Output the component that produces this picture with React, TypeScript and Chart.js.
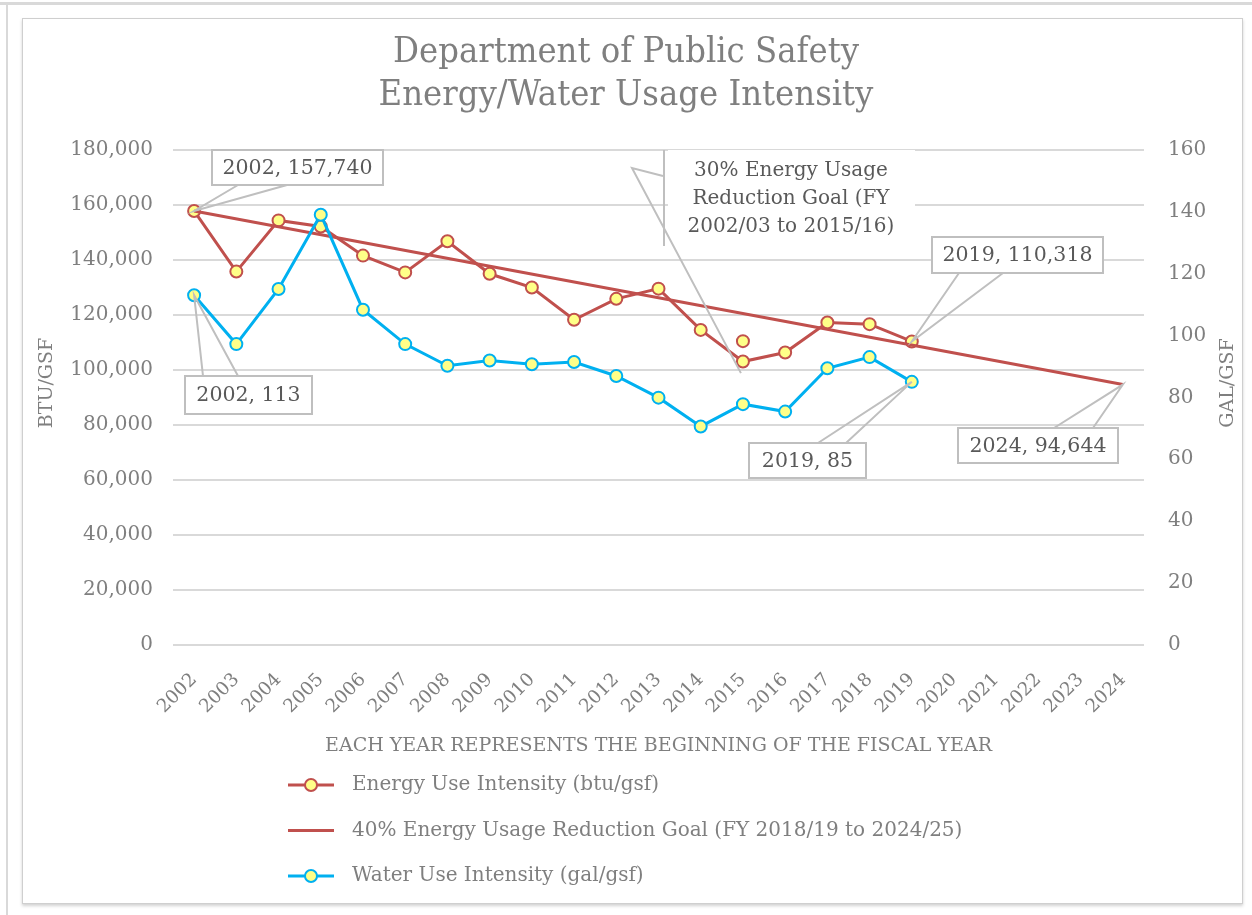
import React, { useEffect, useRef } from 'react';
import { Chart, registerables } from 'chart.js';

Chart.register(...registerables);

// ---------- data ----------
const years = ['2002', '2003', '2004', '2005', '2006', '2007', '2008', '2009', '2010', '2011', '2012', '2013', '2014', '2015', '2016', '2017', '2018', '2019', '2020', '2021', '2022', '2023', '2024'];

const energyUse = [157740, 135700, 154300, 152100, 141500, 135400, 146700, 134900, 129900, 118200, 125800, 129500, 114500, 103000, 106300, 117200, 116600, 110318, null, null, null, null, null];

const goal40 = [157740, null, null, null, null, null, null, null, null, null, null, null, null, null, null, null, null, null, null, null, null, null, 94644];

const goal30 = [null, null, null, null, null, null, null, null, null, null, null, null, null, 110418, null, null, null, null, null, null, null, null, null];

const waterUse = [113, 97.2, 115.0, 139.0, 108.3, 97.2, 90.2, 91.9, 90.7, 91.4, 86.9, 79.9, 70.6, 77.8, 75.4, 89.4, 93.0, 85, null, null, null, null, null];

const titleLines = ['Department of Public Safety', 'Energy/Water Usage Intensity'];
const leftAxis = { min: 0, max: 180000, step: 20000, title: 'BTU/GSF' };
const rightAxis = { min: 0, max: 160, step: 20, title: 'GAL/GSF' };
const xTitle = 'EACH YEAR REPRESENTS THE BEGINNING OF THE FISCAL YEAR';
const legendLabels = [
  'Energy Use Intensity (btu/gsf)',
  '40% Energy Usage Reduction Goal (FY 2018/19 to 2024/25)',
  'Water Use Intensity (gal/gsf)',
];
const goal30Label = ['30% Energy Usage', 'Reduction Goal (FY', '2002/03 to 2015/16)'];

// ---------- styles ----------
const RED = '#c0504d';
const BLUE = '#00b0f0';
const MARKER_FILL = '#ffff88';
const GRAY_TEXT = '#7f7f7f';
const LABEL_TEXT = '#595959';
const GRID = '#d9d9d9';
const CALLOUT = '#bfbfbf';
const SERIF = '"DejaVu Serif", serif';
const TITLE_FONT = '"DejaVu Serif Condensed", "Liberation Serif", serif';

const fmt = (v: number) => Math.round(v).toLocaleString('en-US');

function drawCallout(ctx: CanvasRenderingContext2D, text: string, box: { x: number; y: number; w: number; h: number }, anchors: number[][], target: { x: number; y: number }) {
  ctx.save();
  ctx.strokeStyle = CALLOUT;
  ctx.lineWidth = 2;
  ctx.beginPath();
  ctx.moveTo(anchors[0][0], anchors[0][1]);
  ctx.lineTo(target.x, target.y);
  ctx.lineTo(anchors[1][0], anchors[1][1]);
  ctx.stroke();
  ctx.fillStyle = '#ffffff';
  ctx.fillRect(box.x, box.y, box.w, box.h);
  ctx.strokeRect(box.x, box.y, box.w, box.h);
  ctx.fillStyle = LABEL_TEXT;
  ctx.font = `20.5px ${SERIF}`;
  ctx.textAlign = 'center';
  ctx.textBaseline = 'middle';
  ctx.fillText(text, box.x + box.w / 2, box.y + box.h / 2 + 1);
  ctx.restore();
}

const annotationPlugin = {
  id: 'annotations',
  afterDraw(chart: any) {
    const ctx: CanvasRenderingContext2D = chart.ctx;
    // axis titles, both reading bottom-to-top
    ctx.save();
    ctx.fillStyle = GRAY_TEXT;
    ctx.font = `19px ${SERIF}`;
    ctx.textAlign = 'center';
    ctx.textBaseline = 'middle';
    [[47, leftAxis.title], [1228, rightAxis.title]].forEach(([px, t]) => {
      ctx.save();
      ctx.translate(px as number, 383);
      ctx.rotate(-Math.PI / 2);
      ctx.fillText(t as string, 0, 0);
      ctx.restore();
    });
    ctx.restore();
  },
  afterDatasetsDraw(chart: any) {
    const ctx: CanvasRenderingContext2D = chart.ctx;
    const x = chart.scales.x;
    const y = chart.scales.y;
    const y1 = chart.scales.y1;
    const i2019 = years.indexOf('2019');
    const i2015 = years.indexOf('2015');
    const last = years.length - 1;

    // 30% goal label (white box, partial border) and leader
    const p30 = { x: x.getPixelForValue(i2015), y: y.getPixelForValue(goal30[i2015] as number) };
    ctx.save();
    ctx.fillStyle = '#ffffff';
    ctx.fillRect(668, 150, 247, 96);
    ctx.strokeStyle = CALLOUT;
    ctx.lineWidth = 2;
    ctx.beginPath();
    ctx.moveTo(664, 150);
    ctx.lineTo(664, 246);
    ctx.stroke();
    ctx.beginPath();
    ctx.moveTo(663, 176);
    ctx.lineTo(632, 168);
    ctx.lineTo(p30.x - 2, p30.y + 32);
    ctx.stroke();
    ctx.fillStyle = LABEL_TEXT;
    ctx.font = `20px ${SERIF}`;
    ctx.textAlign = 'center';
    ctx.textBaseline = 'middle';
    goal30Label.forEach((l, k) => ctx.fillText(l, 791, 171 + k * 28));
    ctx.restore();

    drawCallout(ctx, `${years[0]}, ${fmt(energyUse[0] as number)}`, { x: 212, y: 150, w: 171, h: 35 }, [[238, 185], [287, 185]],
      { x: x.getPixelForValue(0), y: y.getPixelForValue(energyUse[0]) });
    drawCallout(ctx, `${years[0]}, ${fmt(waterUse[0] as number)}`, { x: 185, y: 376, w: 127, h: 38 }, [[203, 376], [238, 376]],
      { x: x.getPixelForValue(0), y: y1.getPixelForValue(waterUse[0]) });
    drawCallout(ctx, `${years[i2019]}, ${fmt(energyUse[i2019] as number)}`, { x: 932, y: 237, w: 171, h: 36 }, [[959, 273], [1003, 273]],
      { x: x.getPixelForValue(i2019), y: y.getPixelForValue(energyUse[i2019]) });
    drawCallout(ctx, `${years[i2019]}, ${fmt(waterUse[i2019] as number)}`, { x: 749, y: 443, w: 117, h: 35 }, [[818, 443], [846, 443]],
      { x: x.getPixelForValue(i2019), y: y1.getPixelForValue(waterUse[i2019]) });
    drawCallout(ctx, `${years[last]}, ${fmt(goal40[last] as number)}`, { x: 958, y: 428, w: 160, h: 35 }, [[1054, 428], [1093, 428]],
      { x: x.getPixelForValue(last), y: y.getPixelForValue(goal40[last]) });
  },
};

const legendPlugin = {
  id: 'customLegend',
  afterDraw(chart: any) {
    const ctx: CanvasRenderingContext2D = chart.ctx;
    const items = [
      { label: legendLabels[0], color: RED, marker: true },
      { label: legendLabels[1], color: RED, marker: false },
      { label: legendLabels[2], color: BLUE, marker: true },
    ];
    ctx.save();
    items.forEach((it, k) => {
      const cy = 785 + k * 45.5;
      ctx.strokeStyle = it.color;
      ctx.lineWidth = 3;
      ctx.beginPath();
      ctx.moveTo(288, cy);
      ctx.lineTo(334, cy);
      ctx.stroke();
      if (it.marker) {
        ctx.beginPath();
        ctx.arc(311, cy, 6, 0, Math.PI * 2);
        ctx.fillStyle = MARKER_FILL;
        ctx.fill();
        ctx.lineWidth = 2;
        ctx.stroke();
      }
      ctx.fillStyle = GRAY_TEXT;
      ctx.font = `20px ${SERIF}`;
      ctx.textAlign = 'left';
      ctx.textBaseline = 'middle';
      ctx.fillText(it.label, 352, cy);
    });
    ctx.restore();
  },
};

export default function App() {
  const ref = useRef<HTMLCanvasElement>(null);

  useEffect(() => {
    const chart = new Chart(ref.current as HTMLCanvasElement, {
      type: 'line',
      data: {
        labels: years,
        datasets: [
          {
            label: legendLabels[2],
            data: waterUse,
            yAxisID: 'y1',
            borderColor: BLUE,
            borderWidth: 3,
            pointRadius: 6,
            pointBorderWidth: 2,
            pointBackgroundColor: MARKER_FILL,
            pointBorderColor: BLUE,
            order: 0,
          },
          {
            label: legendLabels[1],
            data: goal40,
            yAxisID: 'y',
            borderColor: RED,
            borderWidth: 3,
            pointRadius: 0,
            spanGaps: true,
            order: 1,
          },
          {
            label: '30% Energy Usage Reduction Goal',
            data: goal30,
            yAxisID: 'y',
            showLine: false,
            borderColor: RED,
            pointRadius: 6,
            pointBorderWidth: 2,
            pointBackgroundColor: MARKER_FILL,
            pointBorderColor: RED,
            order: 2,
          },
          {
            label: legendLabels[0],
            data: energyUse,
            yAxisID: 'y',
            borderColor: RED,
            borderWidth: 3,
            pointRadius: 6,
            pointBorderWidth: 2,
            pointBackgroundColor: MARKER_FILL,
            pointBorderColor: RED,
            order: 3,
          },
        ] as any,
      },
      options: {
        responsive: false,
        animation: false,
        devicePixelRatio: 1,
        layout: { padding: { left: 0, right: 0, top: 0, bottom: 145 } },
        plugins: {
          legend: { display: false },
          tooltip: { enabled: false },
          title: {
            display: true,
            text: titleLines,
            color: GRAY_TEXT,
            font: { family: TITLE_FONT, size: 36, weight: 'normal', lineHeight: 1.19 },
            padding: { top: 31, bottom: 33 },
          },
        },
        scales: {
          x: {
            type: 'category',
            offset: true,
            grid: { display: false },
            border: { display: false },
            ticks: {
              autoSkip: false,
              maxRotation: 45,
              minRotation: 45,
              color: GRAY_TEXT,
              font: { family: SERIF, size: 18.5 },
              padding: 16,
            },
            title: {
              display: true,
              text: xTitle,
              color: GRAY_TEXT,
              font: { family: SERIF, size: 19 },
              padding: { top: 0, bottom: 13 },
            },
            afterFit: (s: any) => { s.height = 125; },
          },
          y: {
            position: 'left',
            min: leftAxis.min,
            max: leftAxis.max,
            grid: { color: GRID, lineWidth: 2, drawTicks: false },
            border: { display: false },
            ticks: {
              stepSize: leftAxis.step,
              color: GRAY_TEXT,
              font: { family: SERIF, size: 20 },
              padding: 20,
              callback: (v: any) => Number(v).toLocaleString('en-US'),
            },
            title: { display: false },
            afterFit: (s: any) => { s.width = 173; },
          },
          y1: {
            position: 'right',
            min: rightAxis.min,
            max: rightAxis.max,
            grid: { display: false, drawTicks: false },
            border: { display: false },
            ticks: {
              stepSize: rightAxis.step,
              color: GRAY_TEXT,
              font: { family: SERIF, size: 20 },
              padding: 24,
            },
            title: { display: false },
            afterFit: (s: any) => { s.width = 108; },
          },
        },
      } as any,
      plugins: [annotationPlugin, legendPlugin],
    });
    return () => chart.destroy();
  }, []);

  return (
    <div style={{ position: 'absolute', left: 0, top: 0, width: 1252, height: 915, background: '#ffffff', overflow: 'hidden' }}>
      <div style={{ position: 'absolute', left: 0, top: 2, width: 1252, height: 3, background: '#d9d9d9' }} />
      <div style={{ position: 'absolute', left: 6, top: 2, width: 2, height: 913, background: '#d9d9d9' }} />
      <div style={{ position: 'absolute', left: 22, top: 18, width: 1219, height: 884, border: '1px solid #cfcfcf', boxShadow: '0 2px 3px rgba(0,0,0,0.18)' }} />
      <canvas ref={ref} width={1252} height={915} style={{ position: 'absolute', left: 0, top: 0 }} />
    </div>
  );
}
